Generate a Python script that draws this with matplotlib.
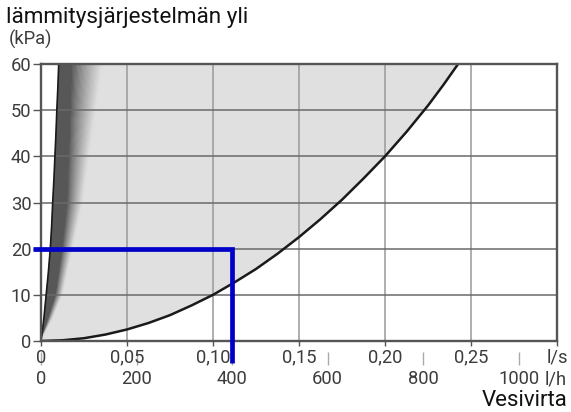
import numpy as np
import matplotlib
matplotlib.use('Agg')
import matplotlib.pyplot as plt
from matplotlib.colors import to_rgb

plt.rcParams['font.family'] = ['Roboto', 'DejaVu Sans']

# ---- data ----
flow_ticks_ls = [0, 0.05, 0.10, 0.15, 0.20, 0.25, 0.30]
flow_labels_ls = ['0', '0,05', '0,10', '0,15', '0,20', '0,25', 'l/s']
flow_ticks_lh = [0, 200, 400, 600, 800, 1000]
flow_labels_lh = ['0', '200', '400', '600', '800', '1000']
pressure_ticks = [0, 10, 20, 30, 40, 50, 60]

# steep boundary curve (flow l/s, pressure kPa)
steep_q = [0, 0.0009, 0.0017, 0.0030, 0.0043, 0.0054, 0.0062, 0.0068, 0.0075,
           0.0081, 0.0087, 0.0092, 0.0098, 0.0103]
steep_p = [0, 2.5, 5, 10, 15, 20, 25, 30, 35, 40, 45, 50, 55, 60]
# flat boundary curve
flat_q = [0, 0.0125, 0.025, 0.0375, 0.05, 0.0625, 0.075, 0.0875, 0.10, 0.1125,
          0.125, 0.1375, 0.15, 0.1625, 0.175, 0.1875, 0.20, 0.2125, 0.225,
          0.2340, 0.2425]
flat_p = [0, 0.16, 0.6, 1.4, 2.5, 3.9, 5.6, 7.7, 10, 12.7,
          15.6, 18.9, 22.5, 26.4, 30.6, 35.2, 40, 45.3, 51.0,
          55.5, 60]
# dark band next to the steep curve
band_p = [0, 5, 10, 20, 30, 40, 50, 60]
band_solid_q = [0, 0.0045, 0.0087, 0.0126, 0.0155, 0.0165, 0.0175, 0.0184]
band_fade_q = [0, 0.0070, 0.0126, 0.0184, 0.0242, 0.0279, 0.0320, 0.0359]
# operating point
op_flow_lh = 400
op_pressure = 20

# ---- figure ----
W, H = 571, 412
fig = plt.figure(figsize=(W / 100, H / 100), dpi=100)
ax_l, ax_r, ax_b, ax_t = 41, 557, 341, 64
ax = fig.add_axes([ax_l / W, 1 - ax_b / H, (ax_r - ax_l) / W, (ax_b - ax_t) / H])
ax.set_xlim(0, 0.30)
ax.set_ylim(0, 60)

light = '#e0e0e0'
dark = '#575757'

# light gray region between curves
ax.fill(np.r_[steep_q, flat_q[::-1]], np.r_[steep_p, flat_p[::-1]],
        color=light, lw=0, zorder=1)

# dark band + gradient
sq = np.array(band_solid_q)
fq = np.array(band_fade_q)
bp = np.array(band_p)
ax.fill(np.r_[steep_q, sq[::-1]], np.r_[steep_p, bp[::-1]],
        facecolor=dark, edgecolor=dark, lw=0.4, zorder=1.1)
c0 = np.array(to_rgb(dark))
c1 = np.array(to_rgb(light))
n = 24
for i in range(n):
    qa = sq + (fq - sq) * (i / n)
    qb = sq + (fq - sq) * ((i + 1) / n)
    t = ((i + 0.5) / n) ** 0.8
    col = c0 + (c1 - c0) * t
    ax.fill(np.r_[qa, qb[::-1]], np.r_[bp, bp[::-1]],
            facecolor=col, edgecolor=col, lw=0.4, zorder=1.1)

# curves
ax.plot(steep_q, steep_p, color='#1a1a1a', lw=1.2, zorder=2)
ax.plot(flat_q, flat_p, color='#1a1a1a', lw=1.8, zorder=2)

# operating point lines
op_q = op_flow_lh / 3600
ax.plot([-0.0047, op_q, op_q], [op_pressure, op_pressure, -4.8],
        color='#0000c8', lw=3.4, solid_joinstyle='miter', solid_capstyle='butt',
        clip_on=False, zorder=5)

# grid
ax.set_xticks(flow_ticks_ls, flow_labels_ls)
ax.set_yticks(pressure_ticks)
ax.xaxis.grid(True, color='#999999', lw=1.1)
ax.yaxis.grid(True, color='#6a6a6a', lw=1.1)

for s in ax.spines.values():
    s.set_color('#555555')
    s.set_linewidth(1.7)
    s.set_zorder(4)

fs = 13.2
tc = '#3c3c3c'
ax.tick_params(axis='x', length=3.6, width=1, color='#555555', pad=2.0,
               labelsize=fs, labelcolor=tc)
ax.tick_params(axis='y', length=5.8, width=1, color='#555555', pad=1.0,
               labelsize=fs, labelcolor=tc)

# secondary l/h axis
sec = ax.secondary_xaxis(-11 / (ax_b - ax_t),
                         functions=(lambda q: np.asarray(q) * 3600,
                                    lambda h: np.asarray(h) / 3600))
sec.set_xticks(flow_ticks_lh, flow_labels_lh)
sec.spines['bottom'].set_visible(False)
sec.tick_params(axis='x', length=9.4, width=1, color='#aaaaaa', pad=3.2,
                labelsize=fs, labelcolor=tc)

fig.text(545 / W, 1 - 384.5 / H, 'l/h', fontsize=fs, color=tc,
         ha='left', va='baseline')

# titles
fig.text(6 / W, 1 - 23 / H, 'lämmitysjärjestelmän yli', fontsize=16.2,
         color='#111111', ha='left', va='baseline')
fig.text(9 / W, 1 - 45 / H, '(kPa)', fontsize=fs, color=tc,
         ha='left', va='baseline')
fig.text(567 / W, 1 - 406 / H, 'Vesivirta', fontsize=16, color='#111111',
         ha='right', va='baseline')

fig.savefig('out.png', dpi=100)
